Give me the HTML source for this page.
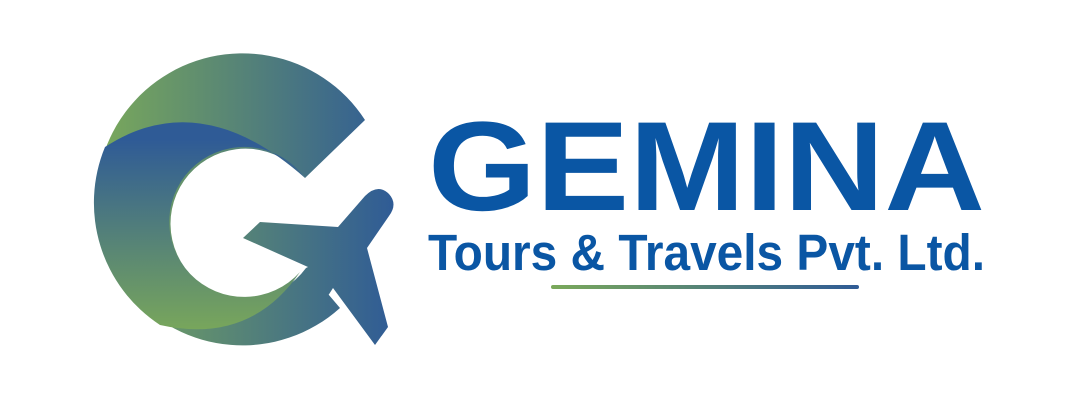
<!DOCTYPE html>
<html><head><meta charset="utf-8"><style>
html,body{margin:0;padding:0;background:#fff;}
svg{display:block;}
</style></head><body>
<svg width="1080" height="405" viewBox="0 0 1080 405" xmlns="http://www.w3.org/2000/svg">
<defs>
<linearGradient id="gh" x1="97" y1="0" x2="395" y2="0" gradientUnits="userSpaceOnUse">
<stop offset="0" stop-color="#7aa95a"/><stop offset="1" stop-color="#2f5b96"/></linearGradient>
<linearGradient id="gv" x1="0" y1="140" x2="0" y2="335" gradientUnits="userSpaceOnUse">
<stop offset="0" stop-color="#2f5b96"/><stop offset="1" stop-color="#7aa85a"/></linearGradient>
<linearGradient id="gl" x1="551" y1="0" x2="859" y2="0" gradientUnits="userSpaceOnUse">
<stop offset="0" stop-color="#7aa95a"/><stop offset="1" stop-color="#2f5b96"/></linearGradient>
</defs>
<g>
<path fill="url(#gh)" d="M365,120 A146,146 0 1 0 340,308 L306,268 A75,75 0 1 1 305,178 Z"/>
<path fill="url(#gv)" d="M105,147 Q200,85 305,178 A75,75 0 1 0 300,272 Q250,345 160,325 A146,146 0 0 1 105,147 Z"/>
<path fill="url(#gh)" d="M260,222 L338,227 L365,196 Q378,183 389,194 Q398,204 389,216 L367,248 L388,327 L375,345 L333,288 Q320,310 300,318 L306,268 L308,267 L243,238 Z"/>
</g>
<text x="428" y="210" textLength="557" lengthAdjust="spacingAndGlyphs" font-family="Liberation Sans, sans-serif" font-weight="bold" font-size="127" fill="#0a56a4">GEMINA</text>
<text x="428" y="270" textLength="557" lengthAdjust="spacingAndGlyphs" font-family="Liberation Sans, sans-serif" font-weight="bold" font-size="51" fill="#0a56a4">Tours &amp; Travels Pvt. Ltd.</text>
<line x1="553" y1="287" x2="857" y2="287" stroke="url(#gl)" stroke-width="4" stroke-linecap="round"/>
</svg>
</body></html>
